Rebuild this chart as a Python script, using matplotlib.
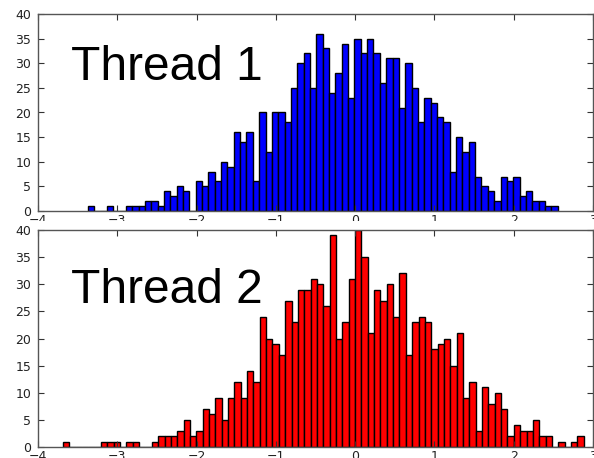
import numpy as np
import matplotlib
matplotlib.use('Agg')
import matplotlib.pyplot as plt
from matplotlib.patches import Rectangle

# --- DATA (bin counts) ---
thread1_first_edge = -3.373
thread1_counts = [1, 0, 0, 1, 0, 0, 1, 1, 1, 2,
                  2, 1, 4, 3, 5, 4, 0, 6, 5, 8,
                  6, 10, 9, 16, 14, 16, 6, 20, 12, 20,
                  20, 18, 25, 30, 32, 25, 36, 33, 24, 28,
                  34, 23, 35, 32, 35, 32, 26, 31, 31, 21,
                  30, 25, 18, 23, 22, 19, 18, 8, 15, 12,
                  14, 7, 5, 4, 2, 7, 6, 7, 3, 4,
                  2, 2, 1, 1]

thread2_first_edge = -3.686
thread2_counts = [1, 0, 0, 0, 0, 0, 1, 1, 1, 0,
                  1, 1, 0, 0, 1, 2, 2, 2, 3, 5,
                  2, 3, 7, 6, 9, 5, 9, 12, 9, 14,
                  12, 24, 20, 19, 17, 27, 23, 29, 29, 31,
                  30, 26, 39, 20, 23, 31, 40, 35, 21, 29,
                  27, 30, 24, 32, 17, 23, 24, 23, 18, 19,
                  20, 15, 21, 9, 12, 3, 11, 8, 10, 7,
                  2, 4, 3, 3, 5, 2, 2, 0, 1, 0,
                  1, 2]

bin_width = 0.0801
x_ticks = [-4, -3, -2, -1, 0, 1, 2, 3]
y_ticks = [0, 5, 10, 15, 20, 25, 30, 35, 40]

W, H = 594, 458
fig = plt.figure(figsize=(W / 100, H / 100), dpi=100)
fig.patch.set_facecolor('white')


def px_axes(left, top, right, bottom):
    # axes rectangle given in pixel coords of the reference image
    return [left / W, 1 - bottom / H, (right - left) / W, (bottom - top) / H]


def draw_hist(ax, first_edge, counts, color, label):
    lefts = first_edge + bin_width * np.arange(len(counts))
    ax.bar(lefts, counts, width=bin_width, align='edge',
           color=color, edgecolor='black', linewidth=1.0)
    ax.set_xlim(-4, 3)
    ax.set_ylim(0, 40)
    ax.set_xticks(x_ticks)
    ax.set_yticks(y_ticks)
    ax.tick_params(direction='in', top=True, right=True, length=4,
                   width=0.8, labelsize=9, colors='#333333',
                   labelcolor='#222222')
    ax.tick_params(axis='x', pad=2)
    ax.tick_params(axis='y', pad=5)
    for sp in ax.spines.values():
        sp.set_color('#555555')
        sp.set_linewidth(1.0)
    ax.text(-3.585, 26.5, label, fontsize=34.5, family='Liberation Sans',
            va='baseline', ha='left', color='black')


ax1 = fig.add_axes(px_axes(38, 14, 593, 211))
draw_hist(ax1, thread1_first_edge, thread1_counts, '#0000ff', 'Thread 1')

# white strip that cuts off the lower half of the top panel's tick labels
fig.patches.append(Rectangle((0, 1 - 229 / H), 1, 8 / H, transform=fig.transFigure,
                             facecolor='white', edgecolor='none', zorder=1))

ax2 = fig.add_axes(px_axes(38, 230, 593, 447))
ax2.set_zorder(2)
draw_hist(ax2, thread2_first_edge, thread2_counts, '#ff0000', 'Thread 2')

fig.savefig('out.png', dpi=100, facecolor='white')
